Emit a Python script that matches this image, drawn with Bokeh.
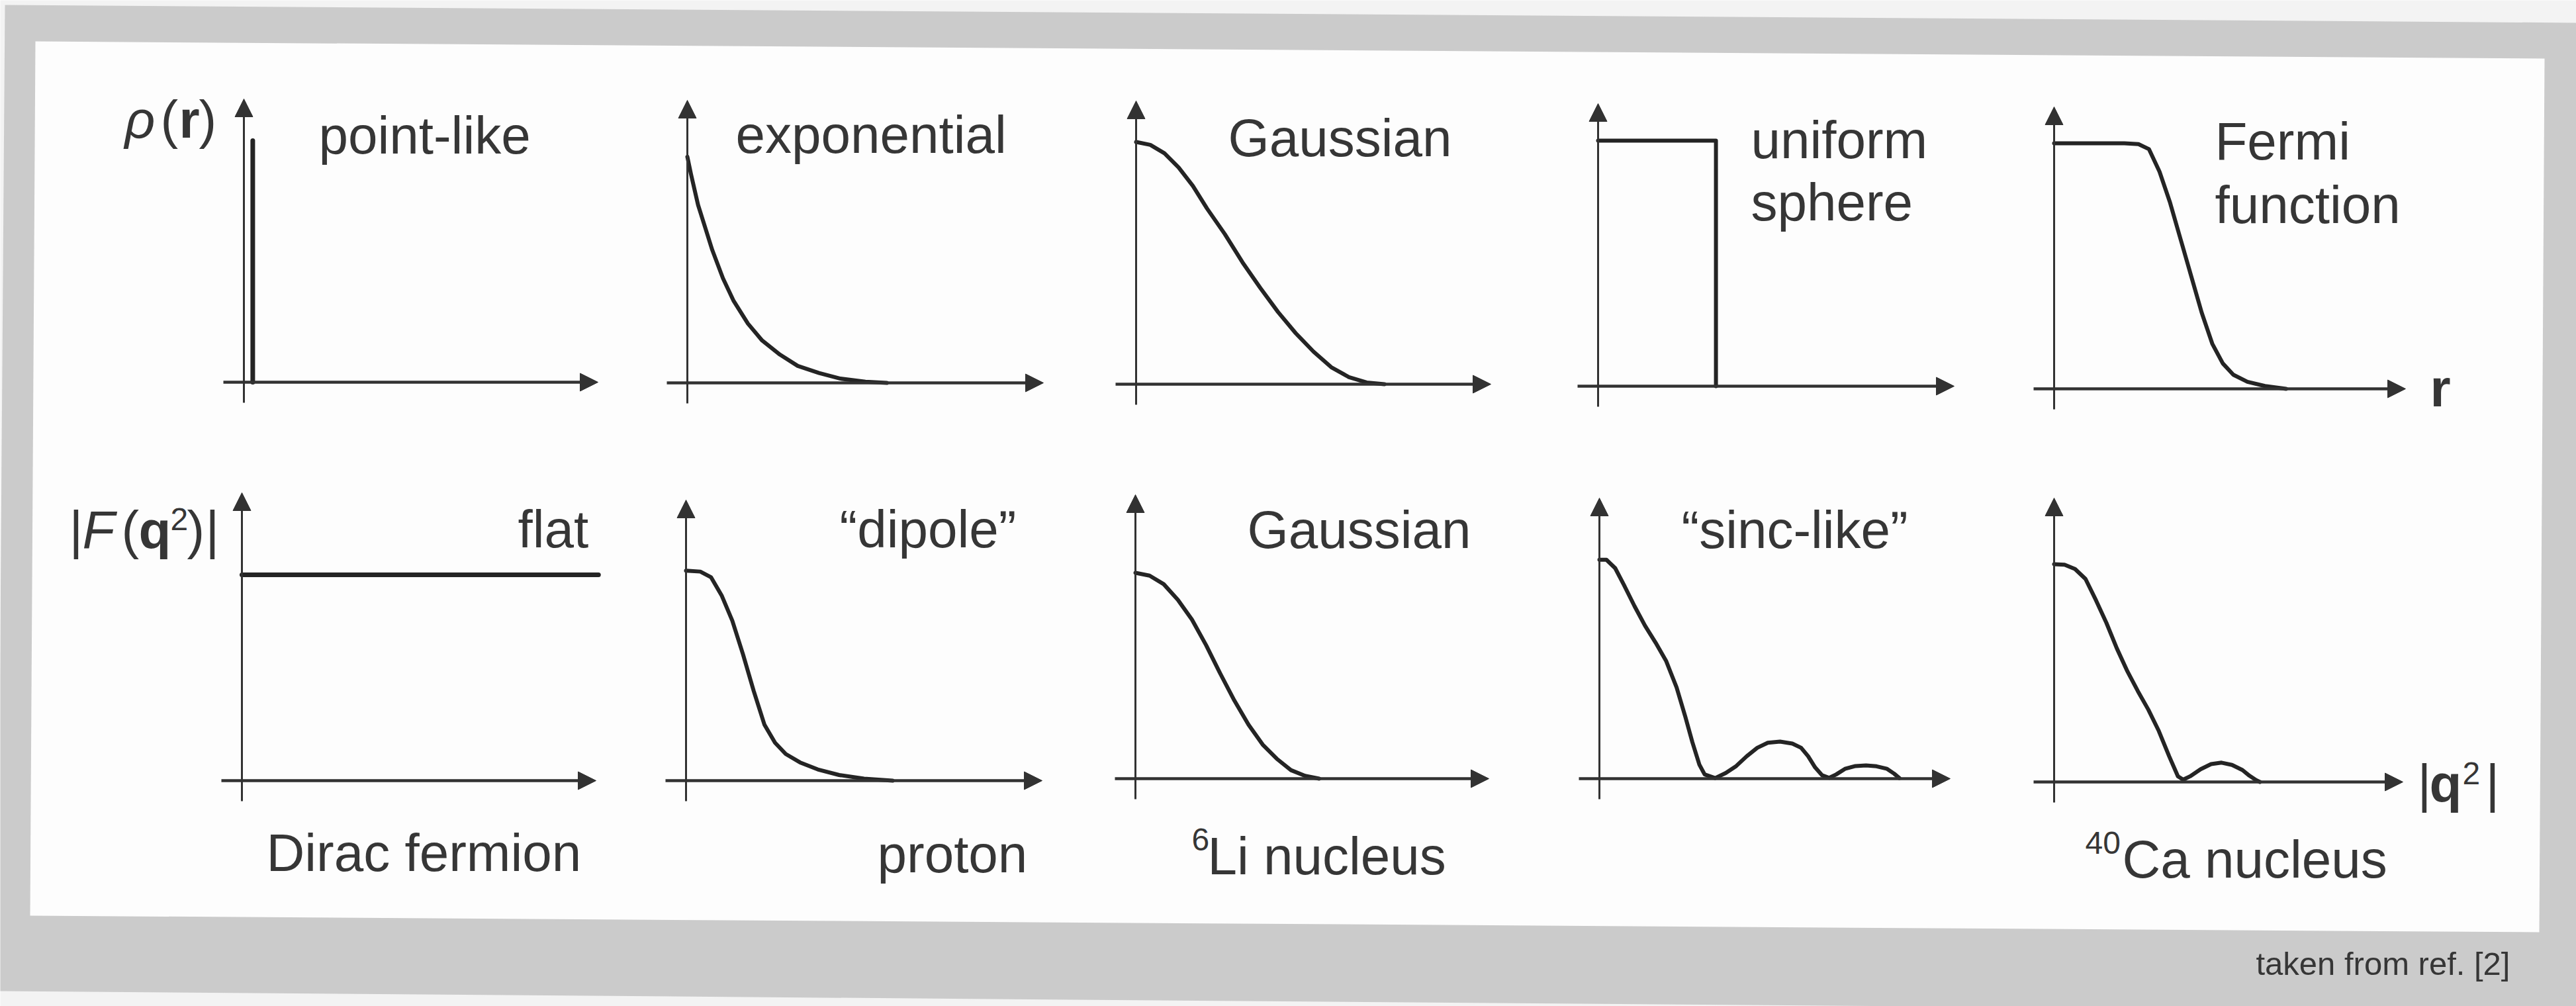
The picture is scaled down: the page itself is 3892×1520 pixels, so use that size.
from bokeh.plotting import figure
from bokeh.models import Range1d, Label, Arrow, NormalHead
from bokeh.embed import file_html
from bokeh.resources import INLINE

W, H = 3892, 1520

# ---------------------------------------------------------------------------
# Curve data. Horizontal values are fractions of each panel's horizontal axis
# (origin -> arrow tip), vertical values are fractions of the vertical axis.
# ---------------------------------------------------------------------------

# charge distributions rho(r)
point_r = [0.025, 0.025]
point_rho = [0.0, 0.853]

exp_r = [0.00, 0.01, 0.03, 0.05, 0.07, 0.10, 0.13, 0.17, 0.21, 0.26, 0.31, 0.37, 0.43, 0.50, 0.56]
exp_rho = [0.80, 0.74, 0.63, 0.55, 0.47, 0.37, 0.29, 0.21, 0.15, 0.10, 0.06, 0.035, 0.015, 0.004, 0.0]

gauss_r = [0.00, 0.04, 0.08, 0.12, 0.16, 0.20, 0.25, 0.30, 0.35, 0.40, 0.45, 0.50, 0.55, 0.60, 0.65, 0.70]
gauss_rho = [0.855, 0.845, 0.815, 0.765, 0.70, 0.62, 0.53, 0.43, 0.34, 0.255, 0.18, 0.115, 0.06, 0.025, 0.006, 0.0]

sphere_r = [0.0, 0.331, 0.331]
sphere_rho = [0.869, 0.869, 0.0]

fermi_r = [0.00, 0.10, 0.20, 0.24, 0.27, 0.30, 0.33, 0.36, 0.39, 0.42, 0.45, 0.48, 0.51, 0.55, 0.60, 0.66]
fermi_rho = [0.871, 0.871, 0.871, 0.868, 0.85, 0.77, 0.66, 0.53, 0.40, 0.27, 0.16, 0.09, 0.05, 0.025, 0.01, 0.0]

# form factors |F(q^2)|
flat_q = [0.0, 1.007]
flat_F = [0.715, 0.715]

dipole_q = [0.00, 0.04, 0.07, 0.10, 0.13, 0.16, 0.19, 0.22, 0.25, 0.28, 0.32, 0.37, 0.43, 0.50, 0.58]
dipole_F = [0.748, 0.745, 0.725, 0.66, 0.57, 0.45, 0.32, 0.20, 0.135, 0.095, 0.065, 0.04, 0.02, 0.007, 0.0]

gaussq_q = [0.00, 0.04, 0.08, 0.12, 0.16, 0.20, 0.24, 0.28, 0.32, 0.36, 0.40, 0.44, 0.48, 0.52]
gaussq_F = [0.725, 0.715, 0.685, 0.63, 0.56, 0.47, 0.37, 0.275, 0.19, 0.12, 0.07, 0.03, 0.01, 0.0]

sinc_q = [0.00, 0.02, 0.045, 0.07, 0.10, 0.13, 0.16, 0.19, 0.22, 0.245, 0.265, 0.285, 0.30, 0.33,
          0.36, 0.39, 0.42, 0.45, 0.48, 0.515, 0.55, 0.575, 0.595, 0.615, 0.635, 0.655, 0.675,
          0.70, 0.73, 0.76, 0.79, 0.82, 0.84, 0.855]
sinc_F = [0.78, 0.78, 0.75, 0.69, 0.615, 0.545, 0.485, 0.42, 0.325, 0.22, 0.13, 0.05, 0.015, 0.002,
          0.02, 0.045, 0.08, 0.11, 0.128, 0.132, 0.125, 0.11, 0.08, 0.04, 0.012, 0.003, 0.015,
          0.035, 0.045, 0.047, 0.044, 0.035, 0.018, 0.002]

ca_q = [0.00, 0.03, 0.06, 0.09, 0.12, 0.15, 0.18, 0.21, 0.24, 0.27, 0.30, 0.33, 0.355, 0.37,
        0.39, 0.42, 0.45, 0.48, 0.51, 0.54, 0.56, 0.58, 0.59]
ca_F = [0.767, 0.765, 0.75, 0.715, 0.64, 0.56, 0.47, 0.39, 0.32, 0.255, 0.18, 0.09, 0.02, 0.008,
        0.02, 0.045, 0.063, 0.068, 0.06, 0.042, 0.022, 0.006, 0.0]

row1_titles = ["point-like", "exponential", "Gaussian", "uniform", "sphere", "Fermi", "function"]
row2_titles = ["flat", "\u201cdipole\u201d", "Gaussian", "\u201csinc-like\u201d"]
row2_captions = ["Dirac fermion", "proton", "Li nucleus", "Ca nucleus"]
mass_numbers = ["6", "40"]
footnote = "taken from ref. [2]"

# ---------------------------------------------------------------------------
# Layout: page-pixel placement of every small panel (origin and axis lengths)
# ---------------------------------------------------------------------------
panels = {
    "point":  dict(ox=368,  oy=577,  xl=535, yl=428, x=point_r,  y=point_rho,  lw=7),
    "exp":    dict(ox=1038, oy=578,  xl=538, yl=427, x=exp_r,    y=exp_rho,    lw=6),
    "gaussr": dict(ox=1716, oy=580,  xl=536, yl=428, x=gauss_r,  y=gauss_rho,  lw=6),
    "sphere": dict(ox=2414, oy=583,  xl=538, yl=427, x=sphere_r, y=sphere_rho, lw=6),
    "fermi":  dict(ox=3103, oy=587,  xl=531, yl=426, x=fermi_r,  y=fermi_rho,  lw=6),
    "flat":   dict(ox=365,  oy=1179, xl=535, yl=435, x=flat_q,   y=flat_F,     lw=7),
    "dipole": dict(ox=1036, oy=1179, xl=538, yl=424, x=dipole_q, y=dipole_F,   lw=6),
    "gaussq": dict(ox=1715, oy=1176, xl=534, yl=429, x=gaussq_q, y=gaussq_F,   lw=6),
    "sinc":   dict(ox=2416, oy=1176, xl=530, yl=424, x=sinc_q,   y=sinc_F,     lw=6),
    "ca":     dict(ox=3103, oy=1181, xl=527, yl=429, x=ca_q,     y=ca_F,       lw=6),
}
OVERHANG = 31          # how far each axis pokes past the origin, px
HEAD = 27              # arrow head size, px

INK = "#242424"
AXIS_INK = "#323232"
TEXT_INK = "#363636"
FONT = "Liberation Sans"
FS = 80
BASELINE_LIFT = 0.28   # the alphabetic anchor lands this many em low; lift it back

p = figure(width=W, height=H, x_range=Range1d(0, W), y_range=Range1d(H, 0),
           output_backend="svg", toolbar_location=None, title=None,
           x_axis_location=None, y_axis_location=None, min_border=0)
p.xgrid.visible = False
p.ygrid.visible = False
p.outline_line_color = None
p.background_fill_color = "#f3f3f3"
p.border_fill_color = "#f3f3f3"

# scanned page: grey mount and the slightly tilted white sheet
p.patch([7, W + 8, W + 8, -4], [7, 34, H + 8, 1497], fill_color="#cbcbcb", line_color=None)
p.patch([53, 3844, 3836, 45], [62, 88, 1408, 1383], fill_color="#fdfdfd", line_color=None)

for name, g in panels.items():
    ox, oy, xl, yl = g["ox"], g["oy"], g["xl"], g["yl"]
    p.extra_x_ranges[name] = Range1d(-ox / xl, (W - ox) / xl)
    p.extra_y_ranges[name] = Range1d((oy - H) / yl, oy / yl)

    # axes with filled arrow heads
    p.add_layout(Arrow(end=NormalHead(size=HEAD, fill_color=AXIS_INK, line_color=AXIS_INK, line_width=1),
                       x_start=-OVERHANG / xl, y_start=0, x_end=1, y_end=0,
                       line_color=AXIS_INK, line_width=4.5,
                       x_range_name=name, y_range_name=name))
    p.add_layout(Arrow(end=NormalHead(size=HEAD, fill_color=AXIS_INK, line_color=AXIS_INK, line_width=1),
                       x_start=0, y_start=-OVERHANG / yl, x_end=0, y_end=1,
                       line_color=AXIS_INK, line_width=3,
                       x_range_name=name, y_range_name=name))

    p.line(g["x"], g["y"], line_color=INK, line_width=g["lw"], line_join="round", line_cap="round",
           x_range_name=name, y_range_name=name)


def put(txt, x, y, size=FS, style="normal", color=TEXT_INK):
    p.add_layout(Label(x=x, y=y - BASELINE_LIFT * size, text=txt, text_font=FONT,
                       text_font_size=f"{size}px", text_font_style=style, text_color=color,
                       text_baseline="alphabetic", text_align="left"))


# ordinate labels
put("\u03c1", 188, 202, style="italic")
put("(", 242, 202)
put("r", 270, 202, style="bold")
put(")", 300, 202)

put("|", 104, 822)
put("F", 124, 822, style="italic")
put("(", 183, 822)
put("q", 209, 822, style="bold")
put("2", 257, 797, size=48)
put(")", 282, 822)
put("|", 310, 822)

# abscissa labels
put("r", 3671, 608, style="bold")
put("|", 3652, 1205)
put("q", 3670, 1205, style="bold")
put("2", 3720, 1181, size=48)
put("|", 3755, 1205)

# panel titles, top row
row1_pos = [(481, 226), (1111, 225), (1855, 230), (2645, 233), (2645, 327), (3346, 235), (3346, 331)]
for t, (x, y) in zip(row1_titles, row1_pos):
    put(t, x, y)

# panel titles, bottom row
row2_pos = [(782, 821), (1268, 821), (1884, 822), (2540, 822)]
for t, (x, y) in zip(row2_titles, row2_pos):
    put(t, x, y)

# captions under the form factors
put(row2_captions[0], 402, 1310)
put(row2_captions[1], 1325, 1312)
put(mass_numbers[0], 1800, 1281, size=48)
put(row2_captions[2], 1824, 1315)
put(mass_numbers[1], 3150, 1286, size=48)
put(row2_captions[3], 3206, 1320)

put(footnote, 3408, 1469, size=49)

open("out.html", "w").write(file_html(p, INLINE))
